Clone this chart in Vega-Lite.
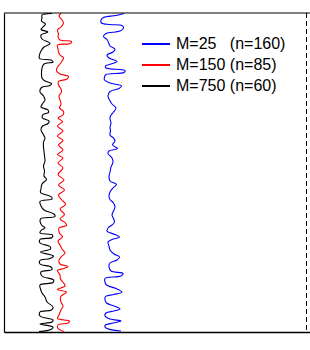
{
  "$schema": "https://vega.github.io/schema/vega-lite/v6.json",
  "width": 306,
  "height": 319,
  "autosize": "none",
  "padding": {"left": 4, "top": 13, "right": 0, "bottom": 18},
  "background": "white",
  "config": {"view": {"stroke": null}},
  "datasets": {
    "blue": [
      {"y":13.5,"x":124},{"y":15.5,"x":116},{"y":17.5,"x":103.5},{"y":20,"x":101},{"y":23,"x":101.5},{"y":24.5,"x":110},{"y":25.5,"x":122},{"y":28,"x":123.5},{"y":31,"x":120},{"y":33.5,"x":106},{"y":36.5,"x":103.5},{"y":39.5,"x":107},{"y":42.5,"x":108.5},{"y":46,"x":110},{"y":49,"x":115},{"y":52,"x":113},{"y":55,"x":107},{"y":58,"x":109},{"y":61.5,"x":117},{"y":64,"x":111},{"y":66,"x":105.5},{"y":68,"x":106},{"y":70.5,"x":125},{"y":72.5,"x":124},{"y":74.5,"x":106},{"y":77,"x":104.5},{"y":80,"x":104.5},{"y":83,"x":110},{"y":86,"x":121.5},{"y":88.5,"x":119},{"y":91.5,"x":110},{"y":96,"x":108},{"y":100,"x":109.5},{"y":104,"x":112},{"y":108,"x":116},{"y":112,"x":113.5},{"y":116,"x":110.5},{"y":119,"x":110},{"y":123,"x":111},{"y":127,"x":110},{"y":131,"x":110.5},{"y":135,"x":110},{"y":138,"x":113.5},{"y":141,"x":115},{"y":145,"x":112.5},{"y":148.5,"x":117.5},{"y":151,"x":109},{"y":153.5,"x":108},{"y":158,"x":112},{"y":162,"x":113},{"y":167,"x":111},{"y":172,"x":110},{"y":177,"x":109},{"y":181,"x":110},{"y":184.5,"x":116.5},{"y":188,"x":113},{"y":192,"x":110},{"y":196,"x":109},{"y":199.5,"x":110},{"y":203,"x":113.5},{"y":207,"x":115},{"y":211,"x":113.5},{"y":215,"x":112},{"y":218.5,"x":113.5},{"y":222,"x":114.5},{"y":225,"x":112},{"y":227.5,"x":108.5},{"y":231,"x":107},{"y":234.5,"x":115},{"y":237,"x":119.5},{"y":239.5,"x":112},{"y":242,"x":108},{"y":246,"x":109},{"y":250,"x":110},{"y":254,"x":114},{"y":257,"x":119.5},{"y":260,"x":117},{"y":263,"x":110},{"y":267,"x":109},{"y":271,"x":111},{"y":273.5,"x":123},{"y":276,"x":121},{"y":278.5,"x":105},{"y":282,"x":105},{"y":285,"x":106.5},{"y":288.5,"x":116},{"y":292,"x":122},{"y":294.5,"x":114},{"y":296.5,"x":105.5},{"y":300,"x":105},{"y":303,"x":106.5},{"y":306,"x":114},{"y":309,"x":120},{"y":311,"x":114},{"y":313,"x":106},{"y":316,"x":105},{"y":319,"x":110},{"y":321,"x":121},{"y":323,"x":113},{"y":325.5,"x":105},{"y":328,"x":106},{"y":331,"x":121}
    ],
    "red": [
      {"y":13.5,"x":61},{"y":16,"x":59},{"y":20,"x":62},{"y":23,"x":63.5},{"y":27,"x":61},{"y":30,"x":57.5},{"y":34,"x":58.5},{"y":37,"x":58},{"y":40,"x":60},{"y":41.5,"x":71.5},{"y":43.5,"x":70.5},{"y":45,"x":57.5},{"y":49,"x":58},{"y":52,"x":58.5},{"y":55,"x":60},{"y":58,"x":63.5},{"y":61,"x":62},{"y":64,"x":60},{"y":67,"x":57.5},{"y":71,"x":56.5},{"y":74,"x":60},{"y":76.5,"x":68.5},{"y":79,"x":67},{"y":81.5,"x":58.5},{"y":85,"x":58.5},{"y":89,"x":61},{"y":92,"x":61.5},{"y":96,"x":59},{"y":100,"x":60},{"y":104,"x":61},{"y":108,"x":59.5},{"y":111.5,"x":63.5},{"y":115,"x":63},{"y":118,"x":58},{"y":121.5,"x":62.5},{"y":126,"x":57.5},{"y":131,"x":63},{"y":136,"x":57.5},{"y":140.5,"x":63},{"y":145,"x":58.5},{"y":150,"x":63},{"y":154.5,"x":57.5},{"y":158,"x":63},{"y":163,"x":58},{"y":168,"x":63},{"y":174.5,"x":58},{"y":180,"x":64},{"y":185,"x":58.5},{"y":190,"x":64.5},{"y":195,"x":58.5},{"y":199,"x":61},{"y":204.5,"x":65.5},{"y":209,"x":60},{"y":214.5,"x":64.5},{"y":219,"x":60},{"y":222.5,"x":65},{"y":225.5,"x":66.5},{"y":228,"x":59},{"y":233,"x":59.5},{"y":237,"x":62.5},{"y":241,"x":58},{"y":245,"x":60},{"y":249,"x":62},{"y":253,"x":65},{"y":256,"x":62},{"y":260,"x":59},{"y":264,"x":60},{"y":266.5,"x":68},{"y":268.5,"x":64},{"y":270.5,"x":57.5},{"y":275,"x":60},{"y":279,"x":60.5},{"y":283.5,"x":64},{"y":286,"x":65},{"y":289.5,"x":57.5},{"y":292,"x":66.5},{"y":294,"x":64},{"y":297,"x":60.5},{"y":302,"x":61},{"y":306,"x":63},{"y":310,"x":61},{"y":315,"x":59},{"y":318.5,"x":57.5},{"y":321,"x":69.5},{"y":323,"x":68},{"y":325,"x":58},{"y":328.5,"x":58},{"y":331.5,"x":64}
    ],
    "black": [
      {"y":13.5,"x":52},{"y":15,"x":42},{"y":18,"x":42},{"y":21,"x":41.5},{"y":24,"x":45.5},{"y":27,"x":43},{"y":29.5,"x":41},{"y":32,"x":48},{"y":35,"x":41},{"y":39,"x":42},{"y":43.5,"x":50},{"y":47,"x":44},{"y":51,"x":41},{"y":55,"x":39.5},{"y":58.5,"x":39.5},{"y":60,"x":51},{"y":62,"x":53},{"y":64,"x":44},{"y":68,"x":42},{"y":73,"x":41.5},{"y":78,"x":42},{"y":81,"x":45},{"y":83.5,"x":51.5},{"y":85.5,"x":50},{"y":87.5,"x":41.5},{"y":92,"x":40},{"y":96,"x":43.5},{"y":100,"x":45},{"y":103,"x":43},{"y":107,"x":41},{"y":110,"x":48},{"y":112.5,"x":48.5},{"y":114.5,"x":43},{"y":118,"x":42.5},{"y":121,"x":49},{"y":123.5,"x":48},{"y":126,"x":42.5},{"y":130,"x":41},{"y":134,"x":43},{"y":138,"x":45},{"y":142,"x":43.5},{"y":147,"x":43.5},{"y":151,"x":44},{"y":156,"x":44.5},{"y":161,"x":45},{"y":166,"x":43.5},{"y":171,"x":44.5},{"y":176,"x":44},{"y":179.5,"x":46.5},{"y":184,"x":42},{"y":189,"x":41},{"y":192.5,"x":40.5},{"y":197,"x":51.5},{"y":199,"x":52},{"y":201.5,"x":40},{"y":206,"x":41},{"y":210,"x":44},{"y":214,"x":54},{"y":216.5,"x":55},{"y":218.5,"x":41},{"y":220.5,"x":40},{"y":225,"x":41.5},{"y":228,"x":45},{"y":230.5,"x":41},{"y":233,"x":40},{"y":235,"x":52.5},{"y":237.5,"x":52},{"y":239.5,"x":40},{"y":243,"x":40},{"y":246.5,"x":50},{"y":249,"x":50.5},{"y":252,"x":40.5},{"y":256,"x":53.5},{"y":258.5,"x":50},{"y":260.5,"x":40},{"y":264,"x":40},{"y":267,"x":51},{"y":269.5,"x":52},{"y":272,"x":41},{"y":276,"x":42},{"y":280,"x":53.5},{"y":282.5,"x":53},{"y":285,"x":40},{"y":289,"x":40.5},{"y":293,"x":42},{"y":297,"x":45},{"y":302,"x":47},{"y":307,"x":53},{"y":310,"x":51.5},{"y":312,"x":40},{"y":316,"x":40},{"y":320,"x":53},{"y":322,"x":52},{"y":324,"x":40},{"y":327,"x":53},{"y":329.5,"x":51},{"y":331.5,"x":39}
    ]
  },
  "layer": [
    {
      "encoding": {
        "x": {"field": "x", "type": "quantitative", "scale": {"domain": [4, 310], "nice": false, "zero": false},
              "axis": {"orient": "bottom", "domain": true, "domainColor": "black", "domainWidth": 1.3, "ticks": false, "labels": false, "grid": false, "title": null}},
        "y": {"field": "y", "type": "quantitative", "scale": {"domain": [13, 332], "reverse": true, "nice": false, "zero": false},
              "axis": {"domain": true, "domainColor": "black", "domainWidth": 1.2, "ticks": false, "labels": false, "grid": false, "title": null}},
        "order": {"field": "y", "type": "quantitative"}
      },
      "layer": [
        {
          "data": {"name": "blue"},
          "mark": {"type": "line", "interpolate": "catmull-rom", "strokeWidth": 1.1, "clip": true},
          "encoding": {
            "color": {"datum": "M=25\u00a0\u00a0\u00a0(n=160)", "type": "nominal",
              "scale": {"domain": ["M=25\u00a0\u00a0\u00a0(n=160)", "M=150 (n=85)", "M=750 (n=60)"], "range": ["#0000ff", "#ff0000", "#000000"]},
              "legend": {"title": null, "orient": "none", "legendX": 137, "legendY": 20.5, "symbolType": "stroke", "symbolSize": 784, "symbolStrokeWidth": 2,
                         "clipHeight": 21, "labelFontSize": 16, "labelFont": "Liberation Sans", "labelColor": "black", "labelOffset": 5, "rowPadding": 0, "labelLimit": 0}}
          }
        },
        {
          "data": {"name": "red"},
          "mark": {"type": "line", "interpolate": "catmull-rom", "strokeWidth": 1.1, "clip": true},
          "encoding": {"color": {"datum": "M=150 (n=85)", "type": "nominal"}}
        },
        {
          "data": {"name": "black"},
          "mark": {"type": "line", "interpolate": "catmull-rom", "strokeWidth": 1.1, "clip": true},
          "encoding": {"color": {"datum": "M=750 (n=60)", "type": "nominal"}}
        }
      ]
    },
    {
      "data": {"values": [{}]},
      "mark": {"type": "rule", "color": "black", "strokeWidth": 1, "strokeDash": [5, 3]},
      "encoding": {"x": {"datum": 306.5, "type": "quantitative"}}
    },
    {
      "data": {"values": [{}]},
      "mark": {"type": "rule", "color": "black", "strokeWidth": 1},
      "encoding": {"y": {"datum": 13, "type": "quantitative"}}
    }
  ]
}
